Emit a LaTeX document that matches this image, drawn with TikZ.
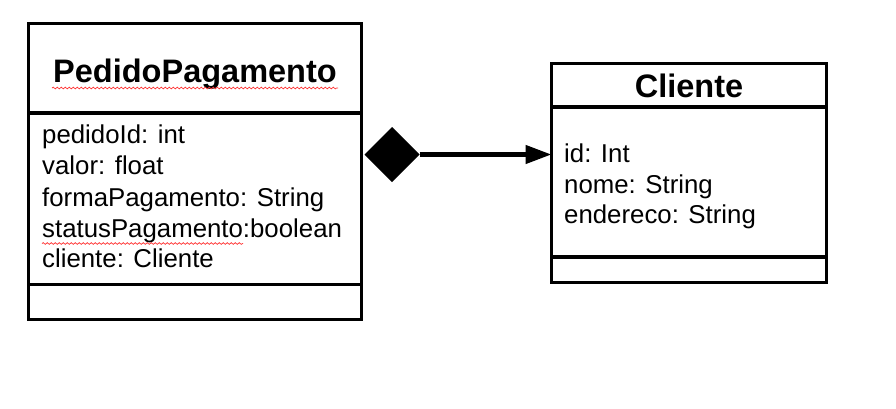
\documentclass[tikz,border=0pt]{standalone}
\usepackage{fontspec}
\setmainfont{Liberation Sans}
\usetikzlibrary{shapes.geometric,arrows.meta,decorations.pathmorphing}
\begin{document}
\begin{tikzpicture}[x=1pt,y=-1pt,
  box/.style={draw=black,line width=3.2pt,inner sep=0pt,outer sep=0pt,rectangle,anchor=north west},
  divider/.style={line width=3.2pt},
  ttl/.style={font=\fontsize{32.5}{36}\selectfont\bfseries,anchor=base,inner sep=0pt},
  attr/.style={font=\fontsize{25.8}{30}\selectfont,anchor=base west,inner sep=0pt},
  spell/.style={draw=red!80!white,line width=0.7pt,decorate,decoration={snake,segment length=4pt,amplitude=0.9pt}}]
\useasboundingbox (0,0) rectangle (896,408);
% PedidoPagamento class
\node[box,minimum width=333pt,minimum height=296pt] (ped) at (28.5,23.5) {};
\draw[divider] (ped.west|-0,113) -- (ped.east|-0,113);
\draw[divider] (ped.west|-0,284.5) -- (ped.east|-0,284.5);
\node[ttl] (pedT) at (195,82) {PedidoPagamento};
\node[attr] (pa1) at (42,143) {pedidoId: int};
\node[attr] (pa2) at (42,174) {valor: float};
\node[attr] (pa3) at (42,206) {formaPagamento: String};
\node[attr] (pa4) at (42,237) {statusPagamento:boolean};
\node[attr] (pa5) at (42,267) {cliente: Cliente};
\draw[spell] (52,88) -- (338,88);
\draw[spell] (42,243.5) -- (243,243.5);
% Cliente class
\node[box,minimum width=275pt,minimum height=219pt] (cli) at (551.5,63.5) {};
\draw[divider] (cli.west|-0,107) -- (cli.east|-0,107);
\draw[divider] (cli.west|-0,257) -- (cli.east|-0,257);
\node[ttl] (cliT) at (689,97) {Cliente};
\node[attr] (ca1) at (564,162) {id: Int};
\node[attr] (ca2) at (564,193) {nome: String};
\node[attr] (ca3) at (564,223) {endereco: String};
% composition
\node[diamond,fill=black,aspect=1,inner sep=0pt,outer sep=0pt,minimum width=55pt,minimum height=55pt] (dia) at (392,154.5) {};
\draw[line width=4.5pt,-{Triangle[length=26pt,width=18pt]}] (dia.east) -- (dia.east-|cli.west);
\end{tikzpicture}
\end{document}
